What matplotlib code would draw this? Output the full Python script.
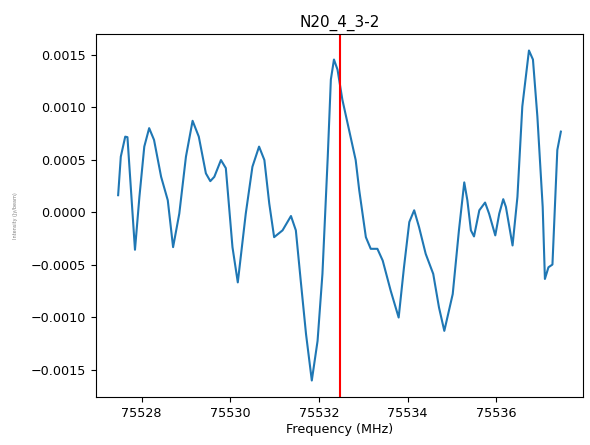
import numpy as np
import matplotlib
matplotlib.use('Agg')
import matplotlib.pyplot as plt

title = 'N20_4_3-2'
rest_freq = 75532.48

freq = [75527.47, 75527.53, 75527.63, 75527.68, 75527.76, 75527.85, 75527.95, 75528.06,
        75528.17, 75528.28, 75528.44, 75528.59, 75528.71, 75528.85, 75529.00, 75529.15,
        75529.29, 75529.45, 75529.55, 75529.64, 75529.79, 75529.90, 75530.05, 75530.17,
        75530.35, 75530.50, 75530.65, 75530.77, 75530.88, 75530.99, 75531.18, 75531.37,
        75531.48, 75531.59, 75531.71, 75531.84, 75531.97, 75532.08, 75532.20, 75532.27,
        75532.34, 75532.42, 75532.53, 75532.68, 75532.83, 75532.91, 75533.06, 75533.17,
        75533.32, 75533.44, 75533.62, 75533.80, 75533.92, 75534.04, 75534.15, 75534.26,
        75534.41, 75534.58, 75534.71, 75534.83, 75535.02, 75535.16, 75535.28, 75535.35,
        75535.43, 75535.50, 75535.62, 75535.75, 75535.84, 75535.98, 75536.07, 75536.16,
        75536.22, 75536.37, 75536.48, 75536.59, 75536.74, 75536.83, 75536.93, 75537.05,
        75537.10, 75537.18, 75537.27, 75537.38, 75537.46]
flux = [0.000163, 0.000530, 0.000721, 0.000716, 0.000211, -0.000357, 0.000147, 0.000626,
        0.000802, 0.000690, 0.000338, 0.000115, -0.000332, -0.0000125, 0.000530, 0.000872,
        0.000721, 0.000371, 0.000297, 0.000338, 0.000498, 0.000421, -0.000332, -0.000668,
        -0.0000125, 0.000434, 0.000626, 0.000498, 0.0000833, -0.000237, -0.000172, -0.0000354,
        -0.000172, -0.000651, -0.001162, -0.001603, -0.001226, -0.000587, 0.000530, 0.001265,
        0.001456, 0.001360, 0.001073, 0.000786, 0.000498, 0.000211, -0.000237, -0.000348,
        -0.000348, -0.000460, -0.000747, -0.001003, -0.000524, -0.0000929, 0.0000192, -0.000141,
        -0.000396, -0.000587, -0.000907, -0.001130, -0.000779, -0.000172, 0.000285, 0.000115,
        -0.000172, -0.000230, 0.0000192, 0.0000929, -0.0000125, -0.000220, -0.0000125, 0.000125,
        0.0000508, -0.000316, 0.000147, 0.001009, 0.001542, 0.001456, 0.000913, 0.0000508,
        -0.000635, -0.000524, -0.000498, 0.000594, 0.000769]

plt.rcParams['font.size'] = 9.2
fig = plt.figure(figsize=(5.9, 4.45), dpi=100)
ax = fig.add_axes([96/590, 1-397/445, (583-96)/590, (397-34)/445])

ax.plot(freq, flux)
ax.axvline(rest_freq, color='r')

ax.set_xticks([75528, 75530, 75532, 75534, 75536])
ax.set_xlabel('Frequency (MHz)', labelpad=2)
ax.set_ylabel('Intensity (Jy/beam)', fontsize=3.5, color='gray')
ax.yaxis.set_label_coords(-0.16, 0.5)
ax.set_title(title, fontsize=11, pad=5)

plt.savefig('out.png')
